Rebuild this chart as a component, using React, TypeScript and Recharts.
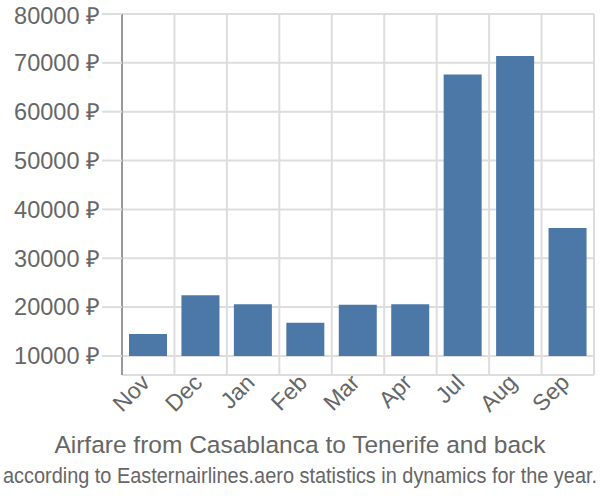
import { Bar, BarChart, CartesianGrid, XAxis, YAxis } from 'recharts'

const months = ['Nov', 'Dec', 'Jan', 'Feb', 'Mar', 'Apr', 'Jul', 'Aug', 'Sep']
const prices = [14500, 22400, 20600, 16800, 20500, 20600, 67600, 71400, 36200]
const yTicks = [10000, 20000, 30000, 40000, 50000, 60000, 70000, 80000]
const baseline = 10000

const TEXT = '#666'
const FONT = '"Liberation Sans", Arial, sans-serif'

const data = months.map((month, i) => ({ month, price: [baseline, prices[i]] }))

function MonthTick({ x, y, payload }: any) {
  const ax = x + 3
  const ay = y + 1
  return (
    <text
      x={ax}
      y={ay}
      fill={TEXT}
      fontFamily={FONT}
      fontSize={23}
      textAnchor="end"
      transform={`rotate(-45 ${ax} ${ay})`}
    >
      {payload.value}
    </text>
  )
}

export default function App() {
  return (
    <div
      style={{
        position: 'absolute',
        left: 0,
        top: 0,
        width: 600,
        height: 500,
        background: '#fff',
        fontFamily: FONT,
      }}
    >
      <BarChart
        width={600}
        height={420}
        data={data}
        margin={{ top: 14, right: 6, bottom: 0, left: 0 }}
        barSize={38}
      >
        <CartesianGrid
          stroke="#ddd"
          strokeWidth={2}
          verticalCoordinatesGenerator={({ offset }: any) =>
            months.map((_, i) => offset.left + ((i + 1) * offset.width) / months.length)
          }
        />
        <XAxis
          dataKey="month"
          axisLine={false}
          tickLine={false}
          height={45}
          interval={0}
          tick={<MonthTick />}
        />
        <YAxis
          width={122}
          domain={[6100, 80000]}
          ticks={yTicks}
          allowDataOverflow
          axisLine={{ stroke: '#999', strokeWidth: 2 }}
          tickLine={{ stroke: '#ddd', strokeWidth: 2 }}
          tickSize={20}
          tickMargin={2}
          tick={{ fill: TEXT, fontSize: 23.5, fontFamily: FONT }}
          tickFormatter={(v: number) => `${v} ₽`}
        />
        <Bar dataKey="price" fill="#4c78a8" isAnimationActive={false} />
      </BarChart>
      <svg width={600} height={80} style={{ position: 'absolute', left: 0, top: 420 }}>
        <text x={300} y={33} textAnchor="middle" fill={TEXT} fontFamily={FONT} fontSize={24.5}>
          Airfare from Casablanca to Tenerife and back
        </text>
        {/* subtitle is squeezed horizontally to fit the width */}
        <g transform="translate(300 63) scale(0.9 1)">
          <text
            x={0}
            y={0}
            textAnchor="middle"
            fill={TEXT}
            fontFamily={FONT}
            fontSize={22}
            textLength={660}
            lengthAdjust="spacingAndGlyphs"
          >
            according to Easternairlines.aero statistics in dynamics for the year.
          </text>
        </g>
      </svg>
    </div>
  )
}
